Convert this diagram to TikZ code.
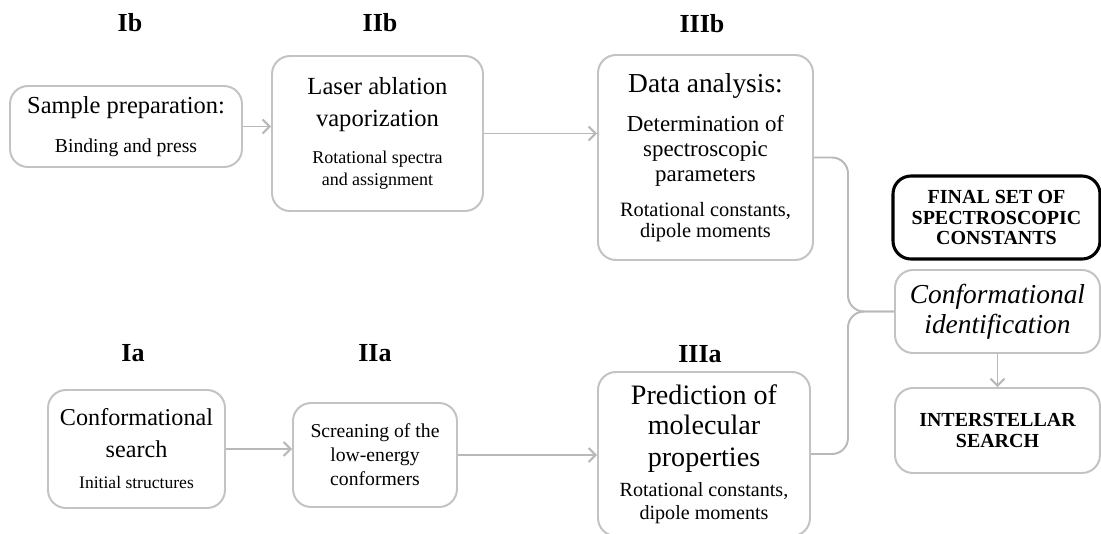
\documentclass[tikz,border=0pt]{standalone}
\usepackage{fontspec}
\setmainfont{Liberation Serif}
\usetikzlibrary{arrows.meta}
\definecolor{boxgray}{RGB}{195,195,195}
\definecolor{linkgray}{RGB}{185,185,185}
\tikzset{
  stepbox/.style={draw=boxgray, line width=1.4pt, rounded corners=0.45cm, fill=white, align=center, inner sep=0pt},
  finalbox/.style={stepbox, draw=black, line width=2.2pt},
  stagelabel/.style={font=\fontsize{18.5}{20}\selectfont\bfseries},
  link/.style={draw=linkgray, line width=1.4pt, -{Straight Barb[length=5pt,width=10pt]}},
  joinline/.style={draw=linkgray, line width=1.4pt, rounded corners=0.4cm}
}
\begin{document}
\begin{tikzpicture}
  \useasboundingbox (0cm,0cm) rectangle (27.525cm,-13.325cm);
  \node[stagelabel] (lIb) at (3.25cm,-0.57cm) {Ib};
  \node[stagelabel] (lIIb) at (9.5cm,-0.57cm) {IIb};
  \node[stagelabel] (lIIIb) at (17.55cm,-0.6cm) {IIIb};
  \node[stagelabel] (lIa) at (3.325cm,-8.825cm) {Ia};
  \node[stagelabel] (lIIa) at (9.375cm,-8.825cm) {IIa};
  \node[stagelabel] (lIIIa) at (17.5cm,-8.85cm) {IIIa};
  \node[stepbox, font=\fontsize{10}{27.7}\selectfont, minimum width=5.8cm, minimum height=2.025cm] (Ib) at (3.15cm,-3.1625cm)
    {\fontsize{17.4}{20}\selectfont Sample preparation:\\\fontsize{14}{16}\selectfont Binding and press};
  \node[stepbox, font=\fontsize{10}{22.8}\selectfont, minimum width=5.275cm, minimum height=3.875cm] (IIb) at (9.4375cm,-3.3375cm)
    {\fontsize{17.5}{22}\selectfont Laser ablation\\\fontsize{17.5}{22}\selectfont vaporization\\[3.5pt]\fontsize{12.8}{15}\selectfont Rotational spectra\\[-7.2pt]\fontsize{12.8}{15}\selectfont and assignment};
  \node[stepbox, font=\fontsize{10}{17.8}\selectfont, minimum width=5.375cm, minimum height=5.125cm] (IIIb) at (17.6375cm,-3.9375cm)
    {\fontsize{19.5}{22}\selectfont Data analysis:\\[9.9pt]\fontsize{16.3}{18}\selectfont Determination of\\\fontsize{16.3}{18}\selectfont spectroscopic\\\fontsize{16.3}{18}\selectfont parameters\\[7.1pt]\fontsize{14.5}{16}\selectfont Rotational constants,\\[-2.9pt]\fontsize{14.5}{16}\selectfont dipole moments};
  \node[stepbox, font=\fontsize{10}{22.4}\selectfont, minimum width=4.425cm, minimum height=2.95cm] (Ia) at (3.4125cm,-11.225cm)
    {\fontsize{17.2}{21}\selectfont Conformational\\\fontsize{17.2}{21}\selectfont search\\\fontsize{12.5}{15}\selectfont Initial structures};
  \node[stepbox, font=\fontsize{10}{17}\selectfont, minimum width=4.1cm, minimum height=2.6cm] (IIa) at (9.375cm,-11.375cm)
    {\fontsize{14}{17}\selectfont Screaning of the\\\fontsize{14}{17}\selectfont low-energy\\\fontsize{14}{17}\selectfont conformers};
  \node[stepbox, font=\fontsize{10}{21.5}\selectfont, minimum width=5.3cm, minimum height=4.1cm] (IIIa) at (17.6cm,-11.35cm)
    {\fontsize{20}{22}\selectfont Prediction of\\\fontsize{20}{22}\selectfont molecular\\[1.5pt]\fontsize{20}{22}\selectfont properties\\\fontsize{14.3}{16}\selectfont Rotational constants,\\[-5.5pt]\fontsize{14.3}{16}\selectfont dipole moments};
  \node[finalbox, font=\fontsize{10}{14.8}\selectfont, minimum width=5.175cm, minimum height=2.075cm] (final) at (24.9125cm,-5.4375cm)
    {\fontsize{14.2}{15.5}\selectfont\bfseries FINAL SET OF\\\fontsize{14.2}{15.5}\selectfont\bfseries SPECTROSCOPIC\\\fontsize{14.2}{15.5}\selectfont\bfseries CONSTANTS};
  \node[stepbox, font=\fontsize{10}{21.3}\selectfont, minimum width=5.125cm, minimum height=2.075cm] (conf) at (24.9375cm,-7.7875cm)
    {\fontsize{19.5}{21.5}\selectfont\itshape Conformational\\\fontsize{19.5}{21.5}\selectfont\itshape identification};
  \node[stepbox, font=\fontsize{10}{14.5}\selectfont, minimum width=5.125cm, minimum height=2.125cm] (inter) at (24.9375cm,-10.7625cm)
    {\fontsize{14.2}{15.5}\selectfont\bfseries INTERSTELLAR\\\fontsize{14.2}{15.5}\selectfont\bfseries SEARCH};
  \coordinate (meet) at (21.2cm,-7.7875cm);
  \draw[link] (Ib.east) -- (Ib.east -| IIb.west);
  \draw[link] (IIb.east) -- (IIb.east -| IIIb.west);
  \draw[link] (Ia.east) -- (Ia.east -| IIa.west);
  \draw[link] (IIa.east) -- (IIa.east -| IIIa.west);
  \draw[joinline] (IIIb.east) -| (meet) -- (conf.west);
  \draw[joinline] (IIIa.east) -| (meet) -- (conf.west);
  \draw[link] (conf.south) -- (inter.north);
\end{tikzpicture}
\end{document}
